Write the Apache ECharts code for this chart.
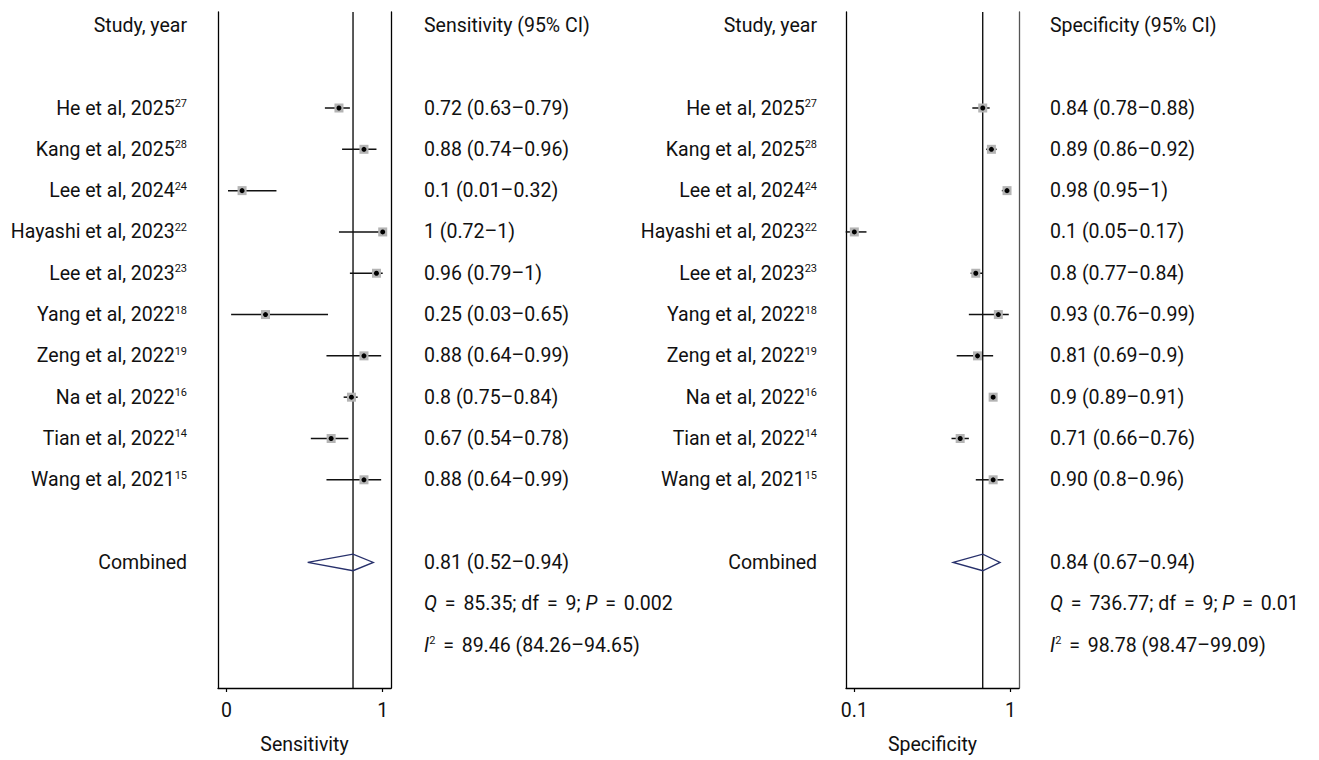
<!DOCTYPE html>
<html>
<head>
<meta charset="utf-8">
<script src="https://cdn.jsdelivr.net/npm/echarts@6/dist/echarts.min.js"></script>
<style>
html,body{margin:0;padding:0;background:#fff;}
#chart{width:1319px;height:760px;}
</style>
</head>
<body>
<div id="chart"></div>
<script>
// ---------- DATA ----------
const studies = ['He et al, 2025','Kang et al, 2025','Lee et al, 2024','Hayashi et al, 2023','Lee et al, 2023','Yang et al, 2022','Zeng et al, 2022','Na et al, 2022','Tian et al, 2022','Wang et al, 2021'];
const refs = ['27','28','24','22','23','18','19','16','14','15'];

const sens   = [0.72,0.88,0.10,1.00,0.96,0.25,0.88,0.80,0.67,0.88];
const sensLo = [0.63,0.74,0.01,0.72,0.79,0.03,0.64,0.75,0.54,0.64];
const sensHi = [0.79,0.96,0.32,1.00,1.00,0.65,0.99,0.84,0.78,0.99];
const sensText = ['0.72 (0.63–0.79)','0.88 (0.74–0.96)','0.1 (0.01–0.32)','1 (0.72–1)','0.96 (0.79–1)','0.25 (0.03–0.65)','0.88 (0.64–0.99)','0.8 (0.75–0.84)','0.67 (0.54–0.78)','0.88 (0.64–0.99)'];
const sensPooled = [0.81,0.52,0.94];
const sensPooledText = '0.81 (0.52–0.94)';
const sensHet = ['85.35','9','0.002'];
const sensI2 = '89.46 (84.26–94.65)';

const spec   = [0.84,0.89,0.98,0.10,0.80,0.93,0.81,0.90,0.71,0.90];
const specLo = [0.78,0.86,0.95,0.05,0.77,0.76,0.69,0.89,0.66,0.80];
const specHi = [0.88,0.92,1.00,0.17,0.84,0.99,0.90,0.91,0.76,0.96];
const specText = ['0.84 (0.78–0.88)','0.89 (0.86–0.92)','0.98 (0.95–1)','0.1 (0.05–0.17)','0.8 (0.77–0.84)','0.93 (0.76–0.99)','0.81 (0.69–0.9)','0.9 (0.89–0.91)','0.71 (0.66–0.76)','0.90 (0.8–0.96)'];
const specPooled = [0.84,0.67,0.94];
const specPooledText = '0.84 (0.67–0.94)';
const specHet = ['736.77','9','0.01'];
const specI2 = '98.78 (98.47–99.09)';

const sensTicks = [0,1];
const sensTickLabels = ['0','1'];
const specTicks = [0.1,1];
const specTickLabels = ['0.1','1'];

// ---------- LAYOUT ----------
const FONT = 'Roboto';
const FS = 19.5;
const INK = '#111';
const Y_MIN = -0.324, Y_MAX = 16.04;
const HEADER_ROW = 0, FIRST_ROW = 2, POOLED_ROW = 13, Q_ROW = 14, I2_ROW = 15;
const rows = studies.map((_, i) => FIRST_ROW + i);

const rich = {
  i: {fontStyle:'italic', fontSize:FS, fontFamily:FONT, color:INK},
  e: {fontSize:FS, fontFamily:FONT, color:INK, padding:[0,3,0,3]},
  s: {fontSize:11, fontFamily:FONT, verticalAlign:'top', color:INK}
};

function textItem(x, y, text, align) {
  return {type:'text', x:x, y:y, style:{text:text, rich:rich, fontSize:FS, fontFamily:FONT, fill:INK, align:align, verticalAlign:'middle'}};
}

function textColumn(gridIdx, anchorX, dx, align, entries) {
  return {
    type:'custom', xAxisIndex:gridIdx, yAxisIndex:gridIdx*2, clip:false, silent:true,
    data: entries.map(e => [anchorX, e[0]]),
    renderItem: function(params, api) {
      const p = api.coord([api.value(0), api.value(1)]);
      return textItem(p[0] + dx, p[1], entries[params.dataIndex][1], align);
    }
  };
}

function studyEntries() {
  const e = [[HEADER_ROW, 'Study, year']];
  studies.forEach((s, i) => e.push([rows[i], s + '{s|' + refs[i] + '}']));
  e.push([POOLED_ROW, 'Combined']);
  return e;
}
function valueEntries(header, texts, pooledText, het, i2) {
  const e = [[HEADER_ROW, header]];
  texts.forEach((t, i) => e.push([rows[i], t]));
  e.push([POOLED_ROW, pooledText]);
  e.push([Q_ROW, '{i|Q} {e|=} ' + het[0] + '; df {e|=} ' + het[1] + '; {i|P} {e|=} ' + het[2]]);
  e.push([I2_ROW, '{i|I}{s|2} {e|=} ' + i2]);
  return e;
}

function forestSeries(gridIdx, est, lo, hi) {
  return {
    type:'custom', xAxisIndex:gridIdx, yAxisIndex:gridIdx*2, clip:false, silent:true,
    data: est.map((v, i) => [v, lo[i], hi[i], rows[i]]),
    renderItem: function(params, api) {
      const c = api.coord([api.value(0), api.value(3)]);
      const l = api.coord([api.value(1), api.value(3)]);
      const h = api.coord([api.value(2), api.value(3)]);
      return {type:'group', children:[
        {type:'line', shape:{x1:l[0], y1:l[1], x2:h[0], y2:h[1]}, style:{stroke:'#111', lineWidth:1.5}},
        {type:'rect', shape:{x:c[0]-4.5, y:c[1]-4.5, width:9, height:9}, style:{fill:'#b4b4b4'}},
        {type:'circle', shape:{cx:c[0], cy:c[1], r:2.5}, style:{fill:'#000'}}
      ]};
    }
  };
}

function diamondSeries(gridIdx, pooled) {
  return {
    type:'custom', xAxisIndex:gridIdx, yAxisIndex:gridIdx*2, clip:false, silent:true,
    data: [[pooled[0], pooled[1], pooled[2], POOLED_ROW]],
    renderItem: function(params, api) {
      const c = api.coord([api.value(0), api.value(3)]);
      const l = api.coord([api.value(1), api.value(3)]);
      const h = api.coord([api.value(2), api.value(3)]);
      const hh = 8.3;
      return {type:'polygon', shape:{points:[[l[0],c[1]],[c[0],c[1]-hh],[h[0],c[1]],[c[0],c[1]+hh]]},
        style:{fill:'none', stroke:'#27306b', lineWidth:1.3}};
    }
  };
}

function refLine(gridIdx, v) {
  return {type:'line', xAxisIndex:gridIdx, yAxisIndex:gridIdx*2, symbol:'none', silent:true,
    data:[[v, Y_MIN],[v, Y_MAX]], lineStyle:{color:'#000', width:1.3}, z:1};
}

function xAxisDef(gridIdx, min, max, ticks, labels, name) {
  return {
    gridIndex:gridIdx, type:'value', position:'bottom', min:min, max:max, splitLine:{show:false},
    axisLine:{show:true, onZero:false, lineStyle:{color:'#000', width:1.3}},
    axisTick:{show:true, customValues:ticks, length:4, lineStyle:{color:'#000', width:1.2}},
    axisLabel:{show:true, customValues:ticks, fontSize:FS, fontFamily:FONT, color:INK, margin:12,
      formatter: v => { const k = ticks.findIndex(t => Math.abs(t - v) < 1e-9); return k >= 0 ? labels[k] : ''; }},
    name:name, nameLocation:'middle', nameGap:46, nameTextStyle:{fontSize:FS, fontFamily:FONT, color:INK}
  };
}
function yAxisDef(gridIdx, pos, color) {
  return {gridIndex:gridIdx, type:'value', position:pos, min:Y_MIN, max:Y_MAX, inverse:true,
    axisLine:{show:true, onZero:false, lineStyle:{color:color, width:1.3}}, axisTick:{show:false},
    axisLabel:{show:false}, splitLine:{show:false}};
}

const SENS_MIN = -0.054, SENS_MAX = 1.053;
const SPEC_MIN = 0.052, SPEC_MAX = 1.049;

const chart = echarts.init(document.getElementById('chart'), null, {renderer:'svg'});
chart.setOption({
  animation:false,
  backgroundColor:'#fff',
  grid:[
    {left:218, top:12, width:173, height:676},
    {left:846, top:12, width:173, height:676}
  ],
  xAxis:[
    xAxisDef(0, SENS_MIN, SENS_MAX, sensTicks, sensTickLabels, 'Sensitivity'),
    xAxisDef(1, SPEC_MIN, SPEC_MAX, specTicks, specTickLabels, 'Specificity')
  ],
  yAxis:[
    yAxisDef(0,'left','#000'), yAxisDef(0,'right','#000'),
    yAxisDef(1,'left','#000'), yAxisDef(1,'right','#555')
  ],
  series:[
    refLine(0, sensPooled[0]),
    refLine(1, specPooled[0]),
    forestSeries(0, sens, sensLo, sensHi),
    forestSeries(1, spec, specLo, specHi),
    diamondSeries(0, sensPooled),
    diamondSeries(1, specPooled),
    textColumn(0, SENS_MIN, -31, 'right', studyEntries()),
    textColumn(0, SENS_MAX, 33, 'left', valueEntries('Sensitivity (95% CI)', sensText, sensPooledText, sensHet, sensI2)),
    textColumn(1, SPEC_MIN, -29, 'right', studyEntries()),
    textColumn(1, SPEC_MAX, 31, 'left', valueEntries('Specificity (95% CI)', specText, specPooledText, specHet, specI2))
  ]
});
</script>
</body>
</html>
